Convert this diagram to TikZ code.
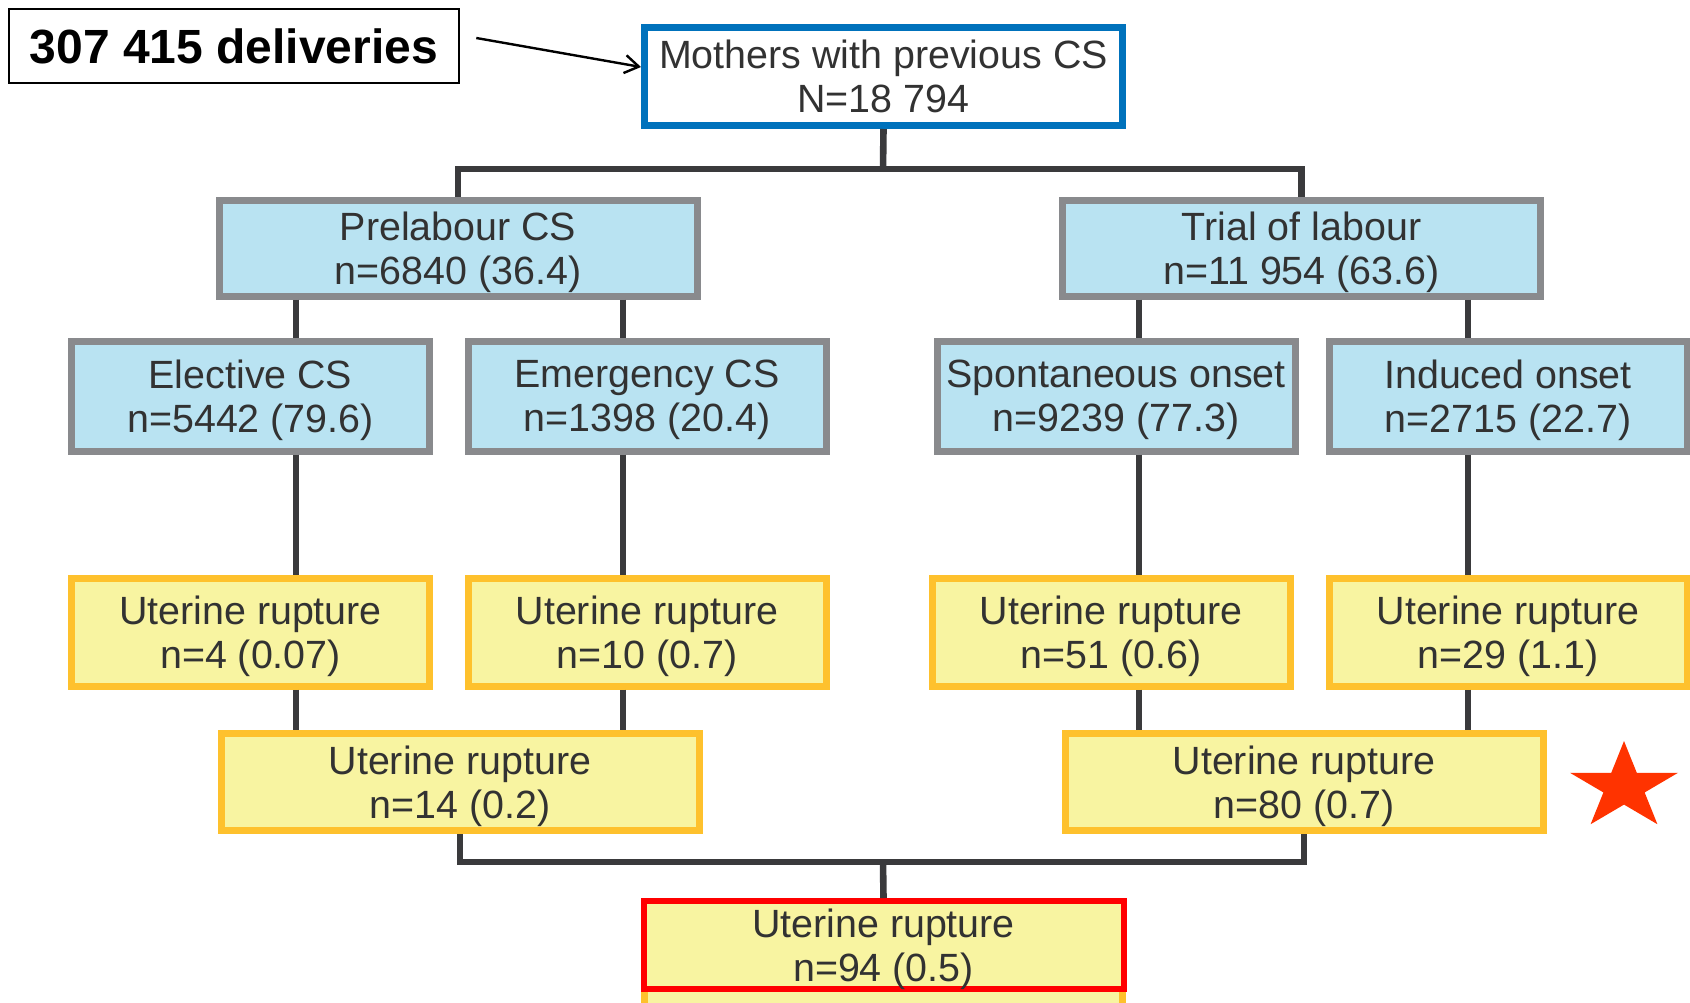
\documentclass[tikz,border=0pt]{standalone}
\usepackage{fontspec}
\setmainfont{Liberation Sans}
\usetikzlibrary{arrows.meta}
\definecolor{boxblue}{RGB}{0,114,188}
\definecolor{boxgray}{RGB}{137,138,141}
\definecolor{boxcyan}{RGB}{185,227,242}
\definecolor{boxyellow}{RGB}{254,193,45}
\definecolor{boxfill}{RGB}{248,244,161}
\definecolor{linkgray}{RGB}{58,58,60}
\definecolor{txtgray}{RGB}{50,50,50}
\definecolor{starred}{RGB}{255,51,0}
\newcommand\boxfont{\fontsize{19.7}{22}\selectfont}
\newcommand\bigfont{\fontsize{24}{28}\selectfont\bfseries}
\tikzset{base/.style={inner sep=0pt, align=center, text=txtgray, font=\boxfont, text depth=0pt},
  bluebox/.style={base, draw=boxblue, line width=3.5pt, fill=white, minimum width=239pt, minimum height=49pt},
  cyanbox/.style={base, draw=boxgray, line width=3.5pt, fill=boxcyan},
  ylwbox/.style={base, draw=boxyellow, line width=3.5pt, fill=boxfill},
  wide/.style={minimum width=239pt, minimum height=48pt},
  narrow/.style={minimum width=179pt, minimum height=55pt},
  link/.style={draw=linkgray, line width=3.3pt}}

\begin{document}
\begin{tikzpicture}[x=0.5pt,y=-0.5pt]
   \useasboundingbox (0,0) rectangle (1690,1002);
   % x positions of the vertical links
   \coordinate (xa) at (296,0);
   \coordinate (xb) at (623,0);
   \coordinate (xc) at (1139,0);
   \coordinate (xd) at (1468,0);
   \coordinate (top) at (883,169);
   \coordinate (bot) at (883,862);
   \node[base, draw=black, line width=1.3pt, text=black, font=\bigfont, minimum width=225pt, minimum height=37pt] (deliv) at (234,46) {307 415 deliveries};
   \node[bluebox] (moth) at (883.5,76.5) {Mothers with previous CS\\N=18 794};
   \node[cyanbox, wide] (pre) at (458,248) {Prelabour CS\\n=6840 (36.4)};
   \node[cyanbox, wide] (trial) at (1301.5,248) {Trial of labour\\n=11 954 (63.6)};
   \node[cyanbox, narrow] (el) at (250.5,396) {Elective CS\\n=5442 (79.6)};
   \node[cyanbox, narrow] (em) at (647,396) {Emergency CS\\n=1398 (20.4)};
   \node[cyanbox, narrow] (sp) at (1116,396) {Spontaneous onset\\n=9239 (77.3)};
   \node[cyanbox, narrow] (ind) at (1508,396) {Induced onset\\n=2715 (22.7)};
   \node[ylwbox, narrow, minimum height=54pt] (ur1) at (250.5,632) {Uterine rupture\\n=4 (0.07)};
   \node[ylwbox, narrow, minimum height=54pt] (ur2) at (647,632) {Uterine rupture\\n=10 (0.7)};
   \node[ylwbox, narrow, minimum height=54pt] (ur3) at (1111,632) {Uterine rupture\\n=51 (0.6)};
   \node[ylwbox, narrow, minimum height=54pt] (ur4) at (1508,632) {Uterine rupture\\n=29 (1.1)};
   \node[ylwbox, wide, minimum height=48.5pt] (urL) at (460,782) {Uterine rupture\\n=14 (0.2)};
   \node[ylwbox, wide, minimum height=48.5pt] (urR) at (1304,782) {Uterine rupture\\n=80 (0.7)};
   \draw[draw=boxyellow, line width=3.5pt, fill=boxfill] (644.5,901.5) rectangle (1122.5,1015);
   \node[base, draw=red, line width=3pt, fill=boxfill, minimum width=240pt, minimum height=44pt] (urT) at (883.5,945) {Uterine rupture\\n=94 (0.5)};
   \draw[-{Straight Barb[length=7pt,width=9pt]}, line width=1.2pt] ([shift={(8pt,4pt)}]deliv.east) -- ([yshift=4.75pt]moth.west);
   \draw[link] (moth.south) -- (top);
   \draw[link] (pre.north) |- (top) -| (trial.north);
   \foreach \a/\b/\x in {pre/el/xa, pre/em/xb, el/ur1/xa, em/ur2/xb, ur1/urL/xa, ur2/urL/xb,
     trial/sp/xc, trial/ind/xd, sp/ur3/xc, ind/ur4/xd, ur3/urR/xc, ur4/urR/xd}
     \draw[link] (\a.south -| \x) -- (\b.north -| \x);
   \draw[link] (urL.south) |- (bot) -| (urR.south);
   \draw[link] (bot) -- (urT.north);
   % star
   \begin{scope}[shift={(1624,787)}, yscale=0.81]
     \fill[starred] (-90:56.8) \foreach \k in {1,...,9} { -- ({-90+36*\k}:{ifthenelse(mod(\k,2)==1,21.7,56.8)}) } -- cycle;
   \end{scope}
\end{tikzpicture}
\end{document}
